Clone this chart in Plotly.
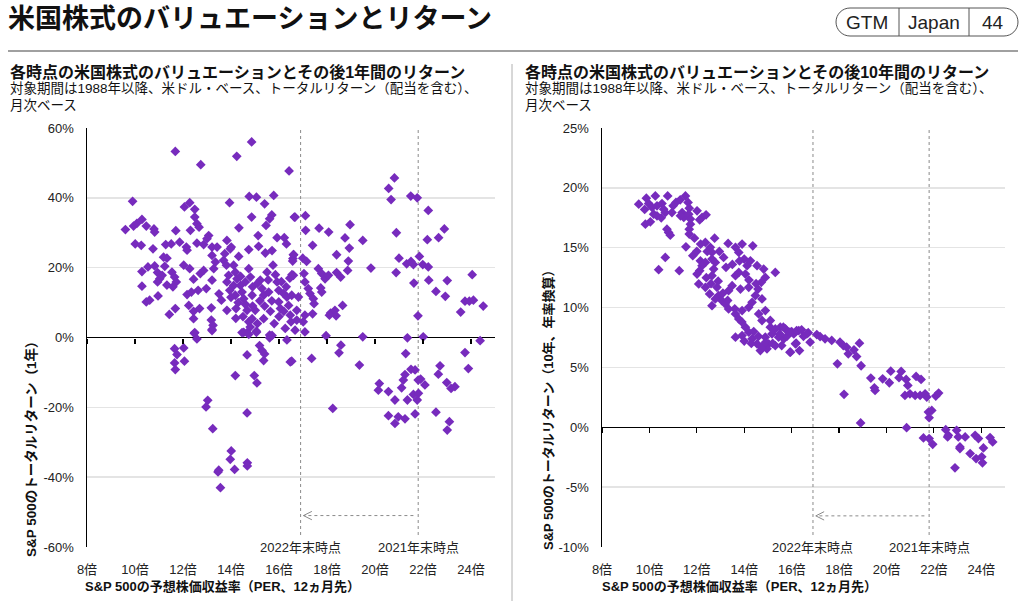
import plotly.graph_objects as go

W, H = 1024, 601
def fx(p): return p / W
def fy(p): return 1 - p / H

FONT = "Liberation Sans, Arial, Noto Sans CJK JP, sans-serif"
PURPLE = "#772bbd"

# ---------------- data ----------------
left_per = [
    11.68, 12.74, 14.24, 14.86, 16.42,
    9.9, 12.06, 12.28, 12.49, 13.94, 14.76, 15.06, 15.78, 15.4, 14.86, 15.7, 16.64,
    9.6, 9.94, 10.08, 10.29, 10.47, 10.79, 10.82, 11.7, 12.49, 12.58, 12.67, 12.31, 14.33, 15.46, 15.61, 15.13, 15.92, 16.22, 16.31,
    10.01, 10.26, 10.75, 11.28, 11.51, 11.86, 12.14, 12.17, 12.58, 12.86, 13.07, 13.0, 13.21, 13.42, 13.83, 14.01, 14.74, 15.15, 15.43, 15.71, 16.61,
    11.19, 11.33, 10.29, 10.54, 10.82, 10.94, 11.03, 10.94, 11.13, 11.24, 11.54, 11.65, 11.72, 11.33, 11.58, 10.29, 10.47, 10.61, 10.96, 11.43, 11.68,
    12.03, 12.28, 12.17, 12.35, 12.44, 12.63, 12.72, 12.86, 12.97, 12.24, 12.44, 12.44, 12.69, 12.49,
    13.21, 13.35, 13.28, 13.21, 13.18, 13.18, 13.25, 13.21, 13.6, 13.69, 13.81, 13.74, 13.97, 13.9, 13.83, 13.83,
    14.11, 14.18, 14.25, 14.32, 14.11, 14.18, 14.21, 14.39, 14.46, 14.53, 14.6, 14.67, 14.74, 14.74, 14.88, 14.88, 14.81, 14.46, 14.67, 15.06, 15.01,
    15.22, 15.29, 15.36, 15.36, 15.5, 15.57, 15.64, 15.75, 15.92, 15.99, 15.99, 16.06, 16.19, 16.33, 16.4, 16.47, 16.5, 16.54, 16.58, 16.26, 15.61,
    14.3, 14.6, 14.9, 15.2, 14.5, 14.8, 15.1, 15.4, 15.7, 15.8, 16.0, 16.2, 14.9, 15.1, 14.4, 14.0, 13.95, 15.55, 15.85, 16.1, 16.3, 16.45, 14.2, 13.5,
    11.65, 11.75, 12.03, 11.65, 12.06, 11.68, 12.47, 12.58, 13.21, 13.03, 12.96, 13.24, 14.18, 14.01, 13.97, 13.49, 13.46, 14.15, 13.56, 14.67,
    14.68, 14.68, 14.67, 14.97, 15.08, 15.19, 15.29, 15.4, 15.36, 15.61, 15.71, 16.33, 16.47, 14.53, 14.74, 15.06,
    20.81, 20.57, 20.67, 21.49, 21.76, 22.22, 16.67, 17.1, 17.11, 17.67, 18.07, 18.96, 18.75, 19.49, 18.93, 17.4, 20.89, 22.89, 22.65, 22.18,
    16.6, 16.57, 16.99, 17.15, 18.4, 18.89, 21.0, 21.32, 21.5, 21.6, 21.85, 21.99, 22.22, 19.83, 18.86, 17.64, 17.78, 17.92, 18.06, 18.4, 18.57,
    20.88, 21.62, 22.24, 23.01, 24.05, 22.54, 22.93, 23.75, 23.93, 24.1, 24.51, 23.57, 21.79,
    16.6, 17.04, 17.08, 17.22, 17.29, 17.43, 17.46, 16.81, 16.53, 17.74, 17.78, 17.4, 17.08, 17.01, 17.08, 16.74, 16.74, 16.67,
    18.15, 18.33, 18.38, 18.65, 18.1, 17.96, 19.49, 21.35, 22.01, 18.58, 18.5, 17.36, 16.53, 19.35, 21.28, 23.75, 24.38, 23.89,
    22.71, 22.64, 21.5, 21.67, 21.25, 21.18, 21.9, 21.8, 22.08, 21.11, 20.18, 20.14, 20.56, 20.83, 21.35, 21.6, 21.81, 21.76,
    22.99, 23.17, 23.33, 18.24, 20.56, 20.83, 20.97, 21.25, 21.67, 22.54, 23.1, 23.01,
]
left_ret1y = [
    53.3, 49.5, 51.9, 56.0, 47.7,
    39.0, 37.4, 38.6, 36.7, 38.6, 40.4, 40.2, 40.7, 38.3, 34.5, 35.1, 34.5,
    30.9, 31.9, 32.7, 33.8, 31.9, 31.1, 30.2, 30.6, 34.5, 32.6, 31.6, 30.7, 31.4, 32.1, 34.0, 29.2, 28.6, 28.6, 26.8,
    26.8, 26.4, 25.4, 26.6, 26.8, 27.3, 25.9, 25.0, 27.0, 26.6, 29.2, 28.3, 25.9, 25.9, 27.8, 25.9, 25.2, 26.1, 24.2, 24.9, 23.7,
    23.0, 22.7, 18.9, 20.2, 20.5, 18.6, 16.8, 15.9, 17.8, 20.4, 18.7, 17.3, 15.9, 15.0, 14.5, 14.7, 10.2, 10.7, 11.9, 6.6, 8.3,
    20.7, 19.7, 12.3, 13.0, 16.7, 13.5, 18.3, 19.2, 14.0, 9.2, 7.5, 5.4, 8.3, 1.4,
    23.5, 21.6, 19.7, 16.4, 8.5, 5.0, 3.5, 2.3, 10.7, 22.1, 20.7, 24.0, 25.4, 17.8, 15.9, 7.8,
    20.7, 18.7, 16.8, 23.2, 14.9, 12.1, 8.3, 14.9, 13.0, 11.1, 15.9, 7.8, 19.7, 4.5, 12.1, 5.4, 17.3, 1.4, 1.4, 1.8, 7.8,
    16.4, 14.0, 12.1, 5.4, 18.7, 13.0, 7.5, 20.7, 15.9, 13.5, 10.2, 8.3, 12.6, 11.6, 9.2, 6.4, 4.5, 18.0, 22.6, 2.6, 0.7,
    10.0, 9.5, 9.0, 10.5, 6.0, 3.0, 4.0, 9.0, 10.5, 4.0, 6.0, 7.5, 14.5, 15.5, 17.5, 11.5, 13.5, 16.5, 18.0, 16.0, 14.5, 17.0, 5.5, 12.5,
    -3.2, -4.9, -3.0, -7.3, -6.8, -9.2, 1.2, -0.4, 2.0, -18.0, -19.9, -26.1, -10.9, -32.5, -34.9, -38.0, -38.5, -37.8, -43.0, -21.6,
    -35.9, -36.8, -5.0, -10.9, -13.0, -2.3, -3.7, -4.7, -6.6, -0.1, 0.6, -0.7, -7.0, 1.5, 0.9, 1.5,
    45.7, 42.7, 39.5, 40.5, 40.0, 36.4, 34.5, 34.9, 30.7, 31.3, 30.2, 32.3, 28.5, 27.8, 25.6, 26.4, 30.0, 31.1, 28.6, 28.0,
    23.7, 21.9, 22.7, 21.8, 23.7, 21.9, 22.7, 21.1, 21.8, 20.9, 23.2, 20.9, 20.2, 19.9, 19.2, 19.7, 18.3, 16.8, 17.8, 18.6, 17.3,
    18.6, 15.6, 16.4, 16.3, 18.0, 13.2, 11.8, 10.4, 10.4, 10.7, 9.0, 7.3, 6.2,
    17.8, 18.3, 15.9, 14.0, 12.6, 11.1, 9.7, 11.6, 12.1, 14.2, 13.0, 6.8, 6.4, 4.5, 1.6, 7.8, 5.0, 2.1,
    7.0, 7.8, 6.2, 9.2, 6.4, 0.5, 0.2, -0.1, 0.2, -2.2, -4.4, -6.0, -6.8, -7.9, -4.6, -4.3, -0.9, -8.9,
    -8.1, -10.5, -9.1, -9.3, -10.6, -12.2, -11.9, -12.2, -13.6, -14.4, -13.2, -15.1, -15.5, -17.9, -17.9, -16.3, -16.0, -17.9,
    -12.9, -14.6, -14.1, -20.3, -22.4, -24.6, -22.7, -23.3, -21.9, -21.4, -24.1, -26.5,
]

right_per = [
    9.55, 9.87, 9.97, 10.25, 10.11, 10.32, 10.53, 10.77, 10.6, 10.67, 10.18, 10.32, 10.95, 11.12, 11.52, 11.63, 11.68, 11.38, 11.45, 11.31,
    11.66, 11.73, 11.73, 11.68, 11.68, 12.01, 12.22, 12.39, 12.12, 10.04, 9.83, 10.74, 10.81, 10.88, 11.54, 10.67, 10.39, 11.26, 11.83,
    12.16, 12.36, 12.75, 12.57, 12.44, 12.64, 12.95, 13.32, 13.63, 13.91, 14.36, 12.15, 12.36, 12.22, 12.64, 12.78, 13.13, 13.23, 12.71,
    12.64, 12.12, 12.01, 12.08, 12.36, 12.54, 12.85, 12.92, 12.78, 12.64, 13.06, 13.34, 13.49, 13.63, 13.77, 14.05, 14.12, 13.77, 14.0,
    14.26, 14.54, 14.82, 15.31, 14.89, 14.72, 14.58, 13.84, 14.19, 14.47, 14.75, 14.33, 14.19, 13.91, 13.63, 13.34, 13.2, 13.77, 14.05,
    14.19, 13.63, 13.91, 14.33, 14.54, 14.68, 14.89, 15.03, 14.61, 14.89, 14.75, 15.1, 15.1, 15.31, 15.52, 15.74, 15.88, 16.09, 16.3,
    15.45, 15.67, 15.95, 16.16, 15.17, 14.96, 14.75, 15.31,
    14.0, 14.3, 14.6, 14.9, 15.2, 15.5, 15.8, 16.0, 16.5, 16.7, 14.4, 13.9, 13.6, 13.3, 13.1, 12.9, 12.6, 12.4, 13.5, 13.8, 14.2, 14.5,
    11.9, 12.0, 10.5, 11.0, 11.3, 9.8,
    15.65, 15.93, 16.21, 16.42, 16.64, 15.58, 15.93, 16.19, 16.33, 16.78, 17.06, 17.2, 17.41, 17.69, 18.04, 18.18, 18.32, 18.39, 18.63,
    18.86, 18.74, 18.93, 17.93, 18.21, 18.91, 19.34, 19.49, 19.52, 19.84, 20.12, 20.18, 20.53, 20.62, 20.83, 20.9, 20.78, 20.99, 21.21,
    21.25, 21.46, 21.42, 21.63, 21.7, 22.08, 22.2, 21.77, 21.91, 21.8, 20.85, 21.56, 21.8, 21.95, 22.5, 22.61, 22.58, 22.96, 23.03,
    23.1, 23.1, 23.32, 22.89, 23.53, 23.74, 23.88, 24.09, 23.78, 24.02, 24.05, 24.37, 24.48,
]
right_ret10y = [
    18.64, 19.14, 18.69, 19.33, 18.36, 18.5, 18.69, 19.33, 18.22, 17.94, 17.8, 17.66, 17.94, 18.78, 19.33, 18.78, 18.3, 17.94, 17.53, 17.66,
    17.8, 17.39, 16.97, 16.55, 16.14, 18.08, 17.53, 17.75, 17.33, 17.16, 16.97, 16.55, 16.28, 16.05, 15.08, 14.19, 13.16, 13.08, 14.33,
    15.3, 15.44, 15.8, 15.03, 14.69, 14.61, 14.69, 15.36, 15.03, 15.3, 15.16, 13.91, 13.77, 13.5, 14.05, 13.77, 14.19, 13.36, 13.22,
    12.66, 13.08, 12.8, 11.97, 11.69, 11.14, 11.69, 11.0, 10.72, 10.16, 10.58, 11.41, 11.83, 12.66, 12.94, 12.8, 13.5, 14.61, 14.05,
    13.91, 13.5, 13.22, 12.94, 12.52, 12.11, 11.55, 11.55, 11.69, 11.0, 10.72, 10.44, 10.02, 9.75, 9.47, 9.89, 10.3, 9.05, 8.36,
    7.94, 7.53, 7.66, 7.39, 6.97, 6.41, 7.53, 6.97, 9.47, 9.75, 8.92, 8.92, 8.36, 8.22, 8.36, 8.22, 7.94, 7.8, 8.08,
    7.53, 7.39, 6.27, 6.97, 7.8, 6.55, 6.69, 6.83,
    7.2, 7.0, 7.6, 7.1, 7.0, 7.8, 7.6, 8.0, 7.6, 7.9, 8.0, 8.8, 9.9, 10.6, 11.2, 12.2, 12.0, 12.5, 13.6, 13.9, 12.3, 12.0,
    15.8, 14.7, 17.5, 18.5, 19.0, 18.2,
    8.36, 7.94, 8.08, 8.14, 7.8, 6.83, 6.27, 7.03, 6.41, 7.11, 7.75, 7.58, 7.39, 7.25, 7.11, 6.83, 6.69, 6.14, 6.47,
    7.03, 5.91, 5.14, 5.3, 2.75, 0.36, 4.11, 3.3, 3.08, 4.05, 3.72, 4.69, 4.14, 4.66, 4.0, 3.5, 2.66, 2.8, 2.66,
    4.25, 4.0, 2.66, 2.8, 2.52, 2.61, 2.86, 1.27, 1.41, 0.8, -0.03, -0.89, -0.94, -1.42, -0.2, -0.67, -0.81, -0.25, -0.81,
    -1.64, -1.78, -0.81, -3.39, -2.2, -0.67, -0.94, -1.72, -2.61, -2.47, -2.97, -0.86, -1.22,
]

x_tickvals = [8, 10, 12, 14, 16, 18, 20, 22, 24]
x_ticktext = [f"{v}倍" for v in x_tickvals]
x_range = [8, 25]
left_yticks = [-60, -40, -20, 0, 20, 40, 60]
right_yticks = [-10, -5, 0, 5, 10, 15, 20, 25]
ref_per = [16.9, 21.8]
ref_labels = ["2022年末時点", "2021年末時点"]

# ---------------- layout geometry (pixels) ----------------
PLOT_TOP, PLOT_BOT = 128, 547
LEFT_X = (87, 495)
RIGHT_X = (602, 1005)
ydom = [fy(PLOT_BOT), fy(PLOT_TOP)]

fig = go.Figure()
marker = dict(symbol="diamond", size=7.5, color=PURPLE, line=dict(width=0))
fig.add_trace(go.Scatter(x=left_per, y=left_ret1y, mode="markers", marker=marker,
                         xaxis="x", yaxis="y", showlegend=False, cliponaxis=False))
fig.add_trace(go.Scatter(x=right_per, y=right_ret10y, mode="markers", marker=marker,
                         xaxis="x2", yaxis="y2", showlegend=False, cliponaxis=False))
# empty traces for the zero-line tick axes
fig.add_trace(go.Scatter(x=[], y=[], xaxis="x3", yaxis="y", showlegend=False))
fig.add_trace(go.Scatter(x=[], y=[], xaxis="x4", yaxis="y2", showlegend=False))

tickfont = dict(family=FONT, size=13, color="#222")

def xaxis_main(dom, anchor):
    return dict(domain=dom, range=x_range, anchor=anchor, tickvals=x_tickvals, ticktext=x_ticktext,
                showgrid=False, zeroline=False, showline=False, ticks="outside", ticklen=10,
                tickcolor="rgba(0,0,0,0)", tickfont=tickfont, fixedrange=True, automargin=False)

def zero_axis(overlay, pos):
    return dict(overlaying=overlay, anchor="free", position=pos, range=x_range, tickvals=x_tickvals,
                showticklabels=False, ticks="outside", ticklen=5, tickwidth=1.2, tickcolor="#000",
                showgrid=False, zeroline=False, showline=False, automargin=False)

def yaxis(rng, ticks, anchor):
    return dict(domain=ydom, range=rng, anchor=anchor, tickvals=ticks, ticktext=[f"{t}%" for t in ticks],
                showgrid=True, gridcolor="#e4e4e4", gridwidth=1.5, zeroline=True, zerolinecolor="#000",
                zerolinewidth=1.5, showline=True, linecolor="#000", linewidth=1.5, ticks="outside",
                ticklen=9, tickcolor="rgba(0,0,0,0)", tickfont=tickfont, automargin=False)

left_rng = [left_yticks[0], left_yticks[-1]]
right_rng = [right_yticks[0], right_yticks[-1]]
zero_pos_left = ydom[0] + (0 - left_rng[0]) / (left_rng[1] - left_rng[0]) * (ydom[1] - ydom[0])
zero_pos_right = ydom[0] + (0 - right_rng[0]) / (right_rng[1] - right_rng[0]) * (ydom[1] - ydom[0])

fig.update_layout(
    width=W, height=H, margin=dict(l=0, r=0, t=0, b=0, pad=0, autoexpand=False),
    paper_bgcolor="white", plot_bgcolor="white", showlegend=False,
    font=dict(family=FONT, color="#222"),
    xaxis=xaxis_main([fx(LEFT_X[0]), fx(LEFT_X[1])], "y"),
    xaxis2=xaxis_main([fx(RIGHT_X[0]), fx(RIGHT_X[1])], "y2"),
    xaxis3=zero_axis("x", zero_pos_left),
    xaxis4=zero_axis("x2", zero_pos_right),
    yaxis=yaxis(left_rng, left_yticks, "x"),
    yaxis2=yaxis(right_rng, right_yticks, "x2"),
)

shapes = []
annots = []
arrow_y = {"": -51.0, "2": -7.4}
head_dy = {"": 1.2, "2": 0.35}
for sfx, rng in (("", left_rng), ("2", right_rng)):
    xr, yr = "x" + sfx, "y" + sfx
    for xv, lab in zip(ref_per, ref_labels):
        shapes.append(dict(type="line", xref=xr, yref=yr, x0=xv, x1=xv, y0=rng[0], y1=rng[1],
                           line=dict(color="#8a8a8a", width=1, dash="dot"), layer="between"))
        annots.append(dict(x=xv, y=rng[0], xref=xr, yref=yr, text=lab, showarrow=False,
                           font=dict(family=FONT, size=13, color="#222"), bgcolor="white",
                           borderpad=4, xanchor="center", yanchor="middle"))
    ya = arrow_y[sfx]
    x_start, x_end = ref_per[1] - 0.2, ref_per[0] + 0.12
    shapes.append(dict(type="line", xref=xr, yref=yr, x0=x_start, x1=x_end, y0=ya, y1=ya,
                       line=dict(color="#8a8a8a", width=1, dash="dot")))
    d = head_dy[sfx]
    shapes.append(dict(type="path", xref=xr, yref=yr,
                       path=f"M {x_end + 0.35},{ya + d} L {x_end},{ya} L {x_end + 0.35},{ya - d}",
                       line=dict(color="#8a8a8a", width=1)))

# header rule and separator
shapes.append(dict(type="line", xref="paper", yref="paper", x0=fx(8), x1=fx(1018), y0=fy(51), y1=fy(51),
                   line=dict(color="#a0a0a0", width=2)))
shapes.append(dict(type="line", xref="paper", yref="paper", x0=fx(512), x1=fx(512), y0=fy(64), y1=fy(601),
                   line=dict(color="#b0b0b0", width=1)))

# badge (pill)
bx0, bx1, by0, by1 = 836, 1018, 8, 36
r = (by1 - by0) / 2
k = 0.5523 * r
pts = [
    f"M {fx(bx0 + r)},{fy(by0)}",
    f"L {fx(bx1 - r)},{fy(by0)}",
    f"C {fx(bx1 - r + k)},{fy(by0)} {fx(bx1)},{fy(by0 + r - k)} {fx(bx1)},{fy(by0 + r)}",
    f"C {fx(bx1)},{fy(by0 + r + k)} {fx(bx1 - r + k)},{fy(by1)} {fx(bx1 - r)},{fy(by1)}",
    f"L {fx(bx0 + r)},{fy(by1)}",
    f"C {fx(bx0 + r - k)},{fy(by1)} {fx(bx0)},{fy(by1 - r + k)} {fx(bx0)},{fy(by1 - r)}",
    f"C {fx(bx0)},{fy(by0 + r - k)} {fx(bx0 + r - k)},{fy(by0)} {fx(bx0 + r)},{fy(by0)} Z",
]
shapes.append(dict(type="path", xref="paper", yref="paper", path=" ".join(pts),
                   line=dict(color="#555", width=1)))
for xd in (899, 969):
    shapes.append(dict(type="line", xref="paper", yref="paper", x0=fx(xd), x1=fx(xd), y0=fy(by0), y1=fy(by1),
                       line=dict(color="#555", width=1)))
for txt_, xc in (("GTM", 867), ("Japan", 934), ("44", 993)):
    annots.append(dict(x=fx(xc), y=fy(22.5), xref="paper", yref="paper", text=txt_, showarrow=False,
                       xanchor="center", yanchor="middle", font=dict(family=FONT, size=19, color="#222")))

def txt(x, y, s, size, bold=False, xanchor="left", angle=0):
    annots.append(dict(x=fx(x), y=fy(y), xref="paper", yref="paper", text=f"<b>{s}</b>" if bold else s,
                       showarrow=False, xanchor=xanchor, yanchor="middle", textangle=angle,
                       font=dict(family=FONT, size=size, color="#111")))

txt(6, 19, "米国株式のバリュエーションとリターン", 27, bold=True)
for x0, n in ((8, "1"), (523, "10")):
    txt(x0, 72, f"各時点の米国株式のバリュエーションとその後{n}年間のリターン", 16, bold=True)
    txt(x0, 89, "対象期間は1988年以降、米ドル・ベース、トータルリターン（配当を含む）、", 13.5)
    txt(x0, 105, "月次ベース", 13.5)

txt(222, 586, "S&P 500の予想株価収益率（PER、12ヵ月先）", 13, bold=True, xanchor="center")
txt(739, 586, "S&P 500の予想株価収益率（PER、12ヵ月先）", 13, bold=True, xanchor="center")
txt(31, 446, "S&P 500のトータルリターン（1年）", 13.5, bold=True, xanchor="center", angle=-90)
txt(548, 407, "S&P 500のトータルリターン（10年、年率換算）", 13, bold=True, xanchor="center", angle=-90)

fig.update_layout(shapes=shapes, annotations=annots)
fig.write_html("out.html", config={"displayModeBar": False, "staticPlot": True},
               post_script="document.body.style.margin='0px';document.body.style.overflow='hidden';")
